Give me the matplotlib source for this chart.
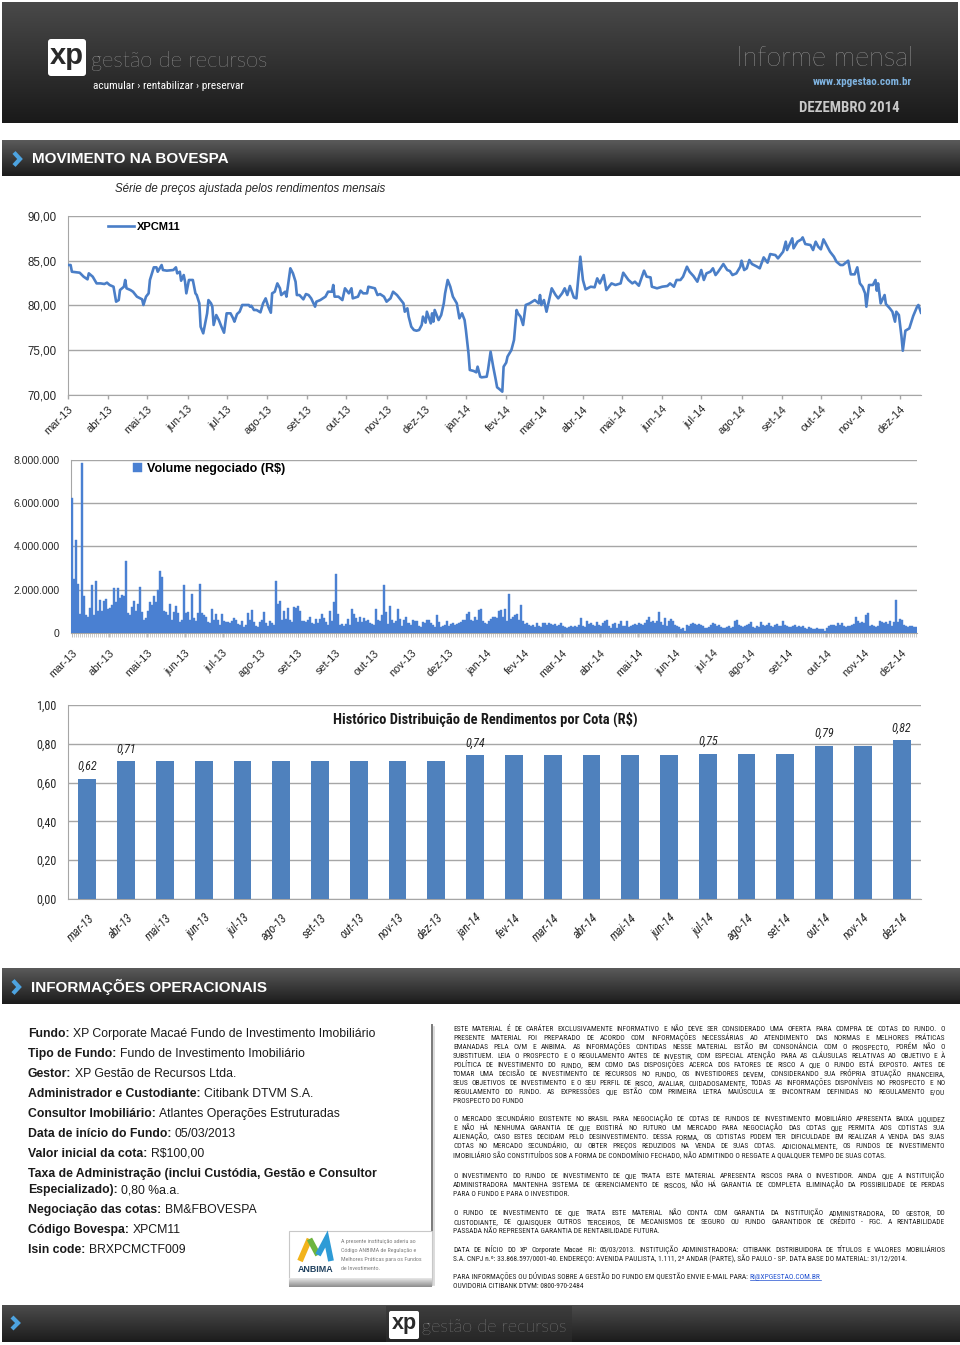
import numpy as np
import pandas as pd
import matplotlib
matplotlib.use('Agg')
import matplotlib.pyplot as plt
from matplotlib import font_manager as fm
from matplotlib.font_manager import FontProperties
from matplotlib.colors import to_rgb
from matplotlib.patches import Rectangle, FancyBboxPatch
from matplotlib.ticker import FixedLocator, FuncFormatter

# ----------------------------------------------------------------- DATA
start_date = '2013-03-01'
month_labels = ['mar-13', 'abr-13', 'mai-13', 'jun-13', 'jul-13', 'ago-13', 'set-13', 'out-13',
                'nov-13', 'dez-13', 'jan-14', 'fev-14', 'mar-14', 'abr-14', 'mai-14', 'jun-14',
                'jul-14', 'ago-14', 'set-14', 'out-14', 'nov-14', 'dez-14']

# price series XPCM11 (days since 2013-03-01, R$)
price_day = [0, 2, 3, 9, 12, 15, 16, 19, 22, 25,
             28, 30, 32, 35, 37, 39, 40, 43, 44, 45,
             48, 50, 53, 57, 58, 60, 62, 63, 66, 68,
             69, 72, 73, 76, 81, 83, 84, 86, 87, 89,
             90, 91, 93, 94, 96, 98, 99, 101, 102, 104,
             105, 107, 108, 110, 111, 112, 114, 116, 118, 120,
             122, 125, 127, 128, 130, 132, 134, 139, 140, 141,
             143, 145, 148, 150, 152, 154, 156, 157, 159, 161,
             163, 164, 167, 168, 171, 173, 175, 176, 178, 181,
             183, 185, 187, 190, 191, 194, 198, 200, 203, 204,
             205, 208, 211, 213, 216, 218, 219, 223, 225, 227,
             230, 231, 236, 238, 240, 243, 245, 248, 250, 253,
             255, 258, 259, 261, 262, 264, 266, 268, 270, 272,
             273, 275, 276, 279, 280, 281, 282, 285, 287, 289,
             290, 292, 294, 296, 299, 301, 303, 305, 306, 308,
             309, 312, 314, 315, 317, 318, 322, 323, 325, 327,
             329, 330, 332, 334, 335, 337, 338, 341, 343, 345,
             346, 348, 350, 352, 355, 359, 362, 363, 364, 366,
             368, 372, 375, 377, 380, 382, 384, 386, 389, 391,
             394, 396, 398, 402, 405, 407, 409, 412, 414, 418,
             421, 425, 427, 431, 434, 436, 439, 443, 445, 448,
             449, 453, 457, 461, 463, 466, 468, 471, 473, 476,
             478, 481, 484, 487, 489, 491, 494, 496, 498, 500,
             504, 507, 509, 511, 514, 517, 518, 520, 522, 524,
             526, 530, 532, 535, 538, 540, 544, 546, 550, 552,
             553, 557, 558, 561, 564, 565, 567, 571, 573, 575,
             577, 579, 581, 584, 586, 589, 591, 594, 596, 600,
             602, 605, 607, 609, 611, 613, 614, 616, 619, 621,
             622, 623, 625, 628, 629, 632, 634, 636, 637, 639,
             641, 642, 644, 647, 650, 653, 654, 656]
price_value = [84.50, 84.50, 83.75, 83.64, 83.20, 82.90, 83.57, 83.20, 82.45, 82.45,
               82.38, 82.53, 82.27, 82.08, 80.41, 80.59, 81.71, 82.08, 82.83, 81.90,
               81.71, 81.52, 80.97, 80.67, 80.04, 80.97, 81.34, 82.83, 84.24, 84.24,
               83.75, 84.50, 83.94, 83.87, 83.94, 84.24, 83.57, 83.75, 82.75, 83.38,
               82.64, 81.34, 82.83, 82.83, 82.83, 81.34, 81.15, 80.22, 77.62, 76.88,
               77.62, 79.11, 80.59, 80.22, 79.85, 77.81, 78.92, 78.36, 77.62, 76.95,
               79.11, 79.11, 78.55, 78.18, 79.03, 79.29, 80.04, 80.04, 79.85, 79.96,
               79.48, 79.48, 79.22, 80.22, 80.78, 79.85, 79.18, 81.34, 81.52, 82.45,
               81.90, 81.15, 81.52, 80.97, 84.13, 83.57, 82.64, 81.15, 81.15, 80.67,
               81.26, 81.15, 80.78, 79.85, 80.41, 80.59, 80.97, 81.52, 81.52, 82.27,
               80.97, 80.97, 80.59, 81.90, 81.34, 81.90, 80.78, 80.97, 81.64, 81.34,
               81.34, 82.08, 81.90, 81.15, 81.26, 80.97, 80.41, 80.78, 81.52, 81.15,
               80.78, 80.22, 79.29, 79.67, 78.74, 77.62, 77.25, 77.17, 77.25, 77.81,
               78.74, 78.07, 79.29, 77.99, 79.11, 78.18, 79.48, 78.36, 78.92, 80.22,
               81.34, 82.83, 82.08, 80.97, 80.22, 78.55, 79.11, 78.36, 77.25, 74.65,
               72.79, 72.68, 72.53, 73.16, 72.04, 71.97, 72.04, 72.79, 74.83, 73.16,
               71.67, 70.86, 70.63, 70.37, 73.16, 73.61, 74.28, 75.02, 76.13, 79.48,
               79.11, 78.74, 77.81, 80.04, 80.22, 80.59, 80.22, 81.15, 80.04, 80.59,
               79.29, 81.90, 81.15, 80.78, 81.34, 81.90, 81.15, 82.16, 80.89, 80.78,
               85.43, 82.83, 81.78, 82.08, 82.01, 83.01, 82.45, 83.38, 81.71, 82.45,
               82.27, 82.45, 83.64, 82.83, 82.45, 82.64, 82.19, 83.87, 83.20, 83.12,
               82.08, 81.90, 82.08, 82.16, 82.45, 82.08, 82.83, 82.83, 83.20, 84.31,
               83.75, 83.27, 82.64, 83.94, 82.83, 83.57, 83.75, 84.13, 83.38, 83.75,
               84.61, 83.94, 83.83, 83.38, 83.57, 84.31, 84.98, 83.94, 84.13, 85.06,
               84.61, 84.31, 84.13, 85.35, 84.76, 85.72, 85.61, 85.24, 85.99, 87.10,
               86.17, 87.47, 86.36, 87.10, 87.36, 87.58, 86.84, 86.73, 86.17, 87.10,
               86.54, 86.25, 87.36, 86.54, 85.99, 85.43, 84.87, 84.50, 84.50, 84.98,
               83.46, 83.46, 84.24, 82.45, 82.08, 81.34, 79.85, 82.27, 82.27, 82.83,
               81.64, 82.45, 80.22, 81.15, 80.15, 79.67, 79.29, 78.18, 79.29, 78.92,
               76.51, 74.94, 77.17, 77.43, 78.81, 79.85, 80.04, 79.18]

# daily traded volume (R$ millions), Mar-2013 .. Jan-2014
volume_part1 = [6.25, 2.5, 4.3, 2.25, 0.85, 7.85, 1.7, 0.8, 0.75, 1.15,
                2.2, 0.8, 2.4, 1.0, 1.5, 1.0, 1.45, 1.55, 1.1, 1.15,
                1.3, 2.05, 1.4, 2.05, 1.6, 1.75, 1.7, 3.3, 0.9, 0.8,
                1.2, 1.45, 1.0, 1.35, 2.1, 0.95, 0.6, 0.7, 1.0, 1.4,
                1.3, 1.7, 1.4, 2.0, 2.85, 2.6, 1.0, 0.95, 0.8, 1.35,
                0.6, 0.95, 1.25, 0.9, 0.5, 0.6, 2.2, 0.9, 0.95, 0.6,
                1.8, 0.7, 0.55, 0.9, 2.25, 0.9, 0.8, 0.75, 0.5, 0.45,
                1.1, 0.6, 0.85, 0.6, 0.35, 0.85, 0.55, 0.5, 0.5, 0.45,
                0.55, 0.7, 0.6, 0.4, 0.35, 0.55, 0.25, 0.35, 0.9, 0.6,
                1.05, 0.5, 0.3, 0.25, 0.5, 0.6, 0.95, 0.45, 0.3, 0.55,
                0.45, 0.35, 2.4, 1.35, 1.45, 0.6, 1.0, 0.65, 1.15, 0.6,
                0.5, 1.2, 1.15, 1.25, 1.0, 0.55, 0.55, 0.5, 0.6, 0.75,
                0.45, 0.4, 0.65, 0.45, 0.65, 0.85, 0.7, 0.5, 0.35, 1.0,
                0.55, 1.4, 2.7, 0.85, 0.35, 0.4, 0.3, 0.4, 0.65, 0.35,
                1.1, 0.85, 0.7, 0.5, 0.75, 0.5, 0.7, 0.55, 0.6, 0.45,
                0.4, 0.35, 1.1, 0.6, 0.55, 0.8, 2.2, 0.95, 0.4, 1.25,
                0.6, 0.45, 0.55, 1.1, 0.65, 0.3, 0.6, 0.75, 0.45, 0.35,
                0.6, 0.55, 0.55, 0.3, 0.25, 0.5, 0.45, 0.6, 0.6, 0.45,
                0.35, 0.25, 0.8, 0.5, 0.25, 0.3, 0.35, 0.55, 0.3, 0.4,
                0.45, 0.35, 0.4, 0.45, 0.5, 0.6, 0.6, 0.85, 0.95, 0.6,
                0.55, 0.75, 0.6, 1.05]
# daily traded volume (R$ millions), Jan-2014 .. Dec-2014
volume_part2 = [1.1, 0.55, 0.45, 0.4, 0.55, 0.65, 0.75, 0.75, 0.7, 1.0,
                1.05, 0.75, 1.1, 0.55, 1.8, 0.65, 0.75, 0.8, 0.85, 0.6,
                1.3, 0.55, 0.4, 0.45, 0.35, 0.3, 0.35, 0.25, 0.45, 0.3,
                0.25, 0.45, 0.45, 0.35, 0.45, 0.4, 0.35, 0.4, 0.3, 0.35,
                0.45, 0.3, 0.25, 0.2, 0.25, 0.3, 0.25, 0.3, 0.25, 0.35,
                0.7, 0.3, 0.25, 0.55, 0.4, 0.45, 0.35, 0.3, 0.5, 0.35,
                0.3, 0.45, 0.55, 0.6, 0.3, 0.2, 0.4, 0.45, 0.2, 0.4,
                0.55, 0.3, 0.3, 0.55, 0.25, 0.3, 0.35, 0.4, 0.35, 0.45,
                0.4, 0.35, 0.45, 0.6, 0.75, 0.5, 0.55, 0.45, 0.55, 0.95,
                0.5, 0.35, 0.7, 0.3, 0.55, 0.65, 0.55, 0.35, 0.3, 0.25,
                0.15, 0.2, 0.1, 0.35, 0.3, 0.4, 0.45, 0.4, 0.35, 0.4,
                0.35, 0.3, 0.2, 0.2, 0.25, 0.35, 0.45, 0.4, 0.3, 0.35,
                0.25, 0.2, 0.2, 0.25, 0.3, 0.2, 0.25, 0.55, 0.6, 0.35,
                0.3, 0.25, 0.3, 0.35, 0.4, 0.5, 0.25, 0.2, 0.3, 0.25,
                0.5, 0.35, 0.3, 0.35, 0.45, 0.3, 0.25, 0.35, 0.4, 0.3,
                0.3, 0.55, 0.35, 0.3, 0.25, 0.25, 0.3, 0.35, 0.25, 0.3,
                0.25, 0.3, 0.2, 0.15, 0.25, 0.2, 0.15, 0.15, 0.2, 0.15,
                0.15, 0.15, 0.1, 0.2, 0.3, 0.35, 0.35, 0.3, 0.45, 0.35,
                0.45, 0.3, 0.25, 0.3, 0.3, 0.35, 0.4, 0.75, 0.55, 0.45,
                0.5, 0.45, 0.8, 0.9, 0.3, 0.35, 0.3, 0.25, 0.3, 0.55,
                0.5, 0.45, 0.5, 0.4, 0.55, 0.3, 0.5, 1.5, 0.5, 0.65,
                0.6, 0.35, 0.3, 0.25, 0.3, 0.3, 0.25, 0.25]
volume_labels = ['mar-13', 'abr-13', 'mai-13', 'jun-13', 'jul-13', 'ago-13', 'set-13', 'set-13',
                 'out-13', 'nov-13', 'dez-13', 'jan-14', 'fev-14', 'mar-14', 'abr-14', 'mai-14',
                 'jun-14', 'jul-14', 'ago-14', 'set-14', 'out-14', 'nov-14', 'dez-14']

# distribution per share (R$)
dividends = [0.62, 0.71, 0.71, 0.71, 0.71, 0.71, 0.71, 0.71, 0.71, 0.71, 0.74,
             0.74, 0.74, 0.74, 0.74, 0.74, 0.75, 0.75, 0.75, 0.79, 0.79, 0.82]
dividend_labelled = ['mar-13', 'abr-13', 'jan-14', 'jul-14', 'out-14', 'dez-14']

info_labels = ['Fundo:', 'Tipo de Fundo:', 'Gestor:', 'Administrador e Custodiante:',
               'Consultor Imobiliário:', 'Data de início do Fundo:', 'Valor inicial da cota:',
               'Taxa de Administração (inclui Custódia, Gestão e Consultor', 'Especializado):',
               'Negociação das cotas:', 'Código Bovespa:', 'Isin code:']
info_values = ['XP Corporate Macaé Fundo de Investimento Imobiliário',
               'Fundo de Investimento Imobiliário', 'XP Gestão de Recursos Ltda.',
               'Citibank DTVM S.A.', 'Atlantes Operações Estruturadas', '05/03/2013',
               'R$100,00', '', '0,80 %a.a.', 'BM&FBOVESPA', 'XPCM11', 'BRXPCMCTF009']

disclaimer = [
    ["ESTE MATERIAL É DE CARÁTER EXCLUSIVAMENTE INFORMATIVO E NÃO DEVE SER CONSIDERADO UMA OFERTA PARA COMPRA DE COTAS DO FUNDO. O",
     "PRESENTE MATERIAL FOI PREPARADO DE ACORDO COM INFORMAÇÕES NECESSÁRIAS AO ATENDIMENTO DAS NORMAS E MELHORES PRÁTICAS",
     "EMANADAS PELA CVM E ANBIMA. AS INFORMAÇÕES CONTIDAS NESSE MATERIAL ESTÃO EM CONSONÂNCIA COM O PROSPECTO, PORÉM NÃO O",
     "SUBSTITUEM. LEIA O PROSPECTO E O REGULAMENTO ANTES DE INVESTIR, COM ESPECIAL ATENÇÃO PARA AS CLÁUSULAS RELATIVAS AO OBJETIVO E À",
     "POLÍTICA DE INVESTIMENTO DO FUNDO, BEM COMO DAS DISPOSIÇÕES ACERCA DOS FATORES DE RISCO A QUE O FUNDO ESTÁ EXPOSTO. ANTES DE",
     "TOMAR UMA DECISÃO DE INVESTIMENTO DE RECURSOS NO FUNDO, OS INVESTIDORES DEVEM, CONSIDERANDO SUA PRÓPRIA SITUAÇÃO FINANCEIRA,",
     "SEUS OBJETIVOS DE INVESTIMENTO E O SEU PERFIL DE RISCO, AVALIAR, CUIDADOSAMENTE, TODAS AS INFORMAÇÕES DISPONÍVEIS NO PROSPECTO E NO",
     "REGULAMENTO DO FUNDO. AS EXPRESSÕES QUE ESTÃO COM PRIMEIRA LETRA MAIÚSCULA SE ENCONTRAM DEFINIDAS NO REGULAMENTO E/OU",
     "PROSPECTO DO FUNDO"],
    ["O MERCADO SECUNDÁRIO EXISTENTE NO BRASIL PARA NEGOCIAÇÃO DE COTAS DE FUNDOS DE INVESTIMENTO IMOBILIÁRIO APRESENTA BAIXA LIQUIDEZ",
     "E NÃO HÁ NENHUMA GARANTIA DE QUE EXISTIRÁ NO FUTURO UM MERCADO PARA NEGOCIAÇÃO DAS COTAS QUE PERMITA AOS COTISTAS SUA",
     "ALIENAÇÃO, CASO ESTES DECIDAM PELO DESINVESTIMENTO. DESSA FORMA, OS COTISTAS PODEM TER DIFICULDADE EM REALIZAR A VENDA DAS SUAS",
     "COTAS NO MERCADO SECUNDÁRIO, OU OBTER PREÇOS REDUZIDOS NA VENDA DE SUAS COTAS. ADICIONALMENTE, OS FUNDOS DE INVESTIMENTO",
     "IMOBILIÁRIO SÃO CONSTITUÍDOS SOB A FORMA DE CONDOMÍNIO FECHADO, NÃO ADMITINDO O RESGATE A QUALQUER TEMPO DE SUAS COTAS."],
    ["O INVESTIMENTO DO FUNDO DE INVESTIMENTO DE QUE TRATA ESTE MATERIAL APRESENTA RISCOS PARA O INVESTIDOR. AINDA QUE A INSTITUIÇÃO",
     "ADMINISTRADORA MANTENHA SISTEMA DE GERENCIAMENTO DE RISCOS, NÃO HÁ GARANTIA DE COMPLETA ELIMINAÇÃO DA POSSIBILIDADE DE PERDAS",
     "PARA O FUNDO E PARA O INVESTIDOR."],
    ["O FUNDO DE INVESTIMENTO DE QUE TRATA ESTE MATERIAL NÃO CONTA COM GARANTIA DA INSTITUIÇÃO ADMINISTRADORA, DO GESTOR, DO",
     "CUSTODIANTE, DE QUAISQUER OUTROS TERCEIROS, DE MECANISMOS DE SEGURO OU FUNDO GARANTIDOR DE CRÉDITO - FGC. A RENTABILIDADE",
     "PASSADA NÃO REPRESENTA GARANTIA DE RENTABILIDADE FUTURA."],
    ["DATA DE INÍCIO DO XP Corporate Macaé FII: 05/03/2013. INSTITUIÇÃO ADMINISTRADORA: CITIBANK DISTRIBUIDORA DE TÍTULOS E VALORES MOBILIÁRIOS",
     "S.A. CNPJ n.º: 33.868.597/0001-40. ENDEREÇO: AVENIDA PAULISTA, 1.111, 2º ANDAR (PARTE), SÃO PAULO - SP. DATA BASE DO MATERIAL: 31/12/2014."],
]
contact_text = "PARA INFORMAÇÕES OU DÚVIDAS SOBRE A GESTÃO DO FUNDO EM QUESTÃO ENVIE E-MAIL PARA: "
contact_email = "RI@XPGESTAO.COM.BR"
ouvidoria_text = "OUVIDORIA CITIBANK DTVM: 0800-970-2484"

# ----------------------------------------------------------------- FONTS
flist = fm.fontManager.ttflist
avail = {f.name for f in flist}
SANS = 'Liberation Sans' if 'Liberation Sans' in avail else 'DejaVu Sans'
NARROW, NSTRETCH, NK = SANS, 'normal', 0.84
for cand in ['Liberation Sans Narrow', 'Arial Narrow', 'Roboto Condensed',
             'Open Sans Condensed', 'DejaVu Sans Condensed']:
    if cand in avail:
        NARROW, NSTRETCH, NK = cand, 'normal', 1.0 if 'Narrow' in cand else 0.95
        break
else:
    cond = [f for f in flist if f.name in ('Roboto', 'Open Sans', 'DejaVu Sans')
            and str(f.stretch) in ('condensed', 'semi-condensed', '500', '600', '300', '400')
            and str(f.stretch) not in ('normal',)]
    if cond:
        NARROW, NSTRETCH, NK = cond[0].name, cond[0].stretch, 0.92
LIGHT = 'Lato' if 'Lato' in avail else SANS
plt.rcParams['font.family'] = [SANS, 'DejaVu Sans']


def nfp(size, weight='normal', style='normal'):
    return FontProperties(family=NARROW, stretch=NSTRETCH, size=size * NK,
                          weight=weight, style=style)


BLUE = '#4A7EC7'
GRID = '#a6a6a6'
TXT = '#262626'

W, H = 960, 1345
fig = plt.figure(figsize=(W / 100, H / 100), dpi=100)
fig.patch.set_facecolor('white')
bg = fig.add_axes([0, 0, 1, 1])
bg.axis('off')
renderer = fig.canvas.get_renderer()


def frac_axes(x0, y0, x1, y1):
    a = fig.add_axes([x0 / W, 1 - y1 / H, (x1 - x0) / W, (y1 - y0) / H])
    a.set_facecolor('none')
    return a


def grad(x0, y0, x1, y1, c_top, c_bot, z=1):
    t = np.linspace(0, 1, 64)[:, None]
    a, b = np.array(to_rgb(c_top)), np.array(to_rgb(c_bot))
    img = (a * (1 - t) + b * t)[:, None, :]
    bg.imshow(img, extent=(x0, x1, y1, y0), origin='upper', aspect='auto',
              interpolation='bilinear', zorder=z)


def chevron(x, y, s=6.5):
    bg.plot([x - 3, x + 3, x - 3], [y - s, y, y + s], color='#4da3e0', lw=3,
            solid_joinstyle='miter', solid_capstyle='butt', zorder=3)


def text_w(s, fp):
    w, h, d = renderer.get_text_width_height_descent(s, fp, ismath=False)
    return w


def ctext(x, y, s, fp, **kw):
    """text whose cap-height centre sits at y (baseline aligned)."""
    off = fp.get_size_in_points() * 100 / 72 * 0.36
    return bg.text(x, y + off, s, va='baseline', fontproperties=fp, **kw)


# ----------------------------------------------------------------- HEADER
grad(2, 2, 958, 123, '#494949', '#1a1a1a')
bg.add_patch(FancyBboxPatch((48, 39), 38, 37, boxstyle='round,pad=0,rounding_size=3',
                            fc='white', ec='none', zorder=3))
bg.text(67, 56, 'xp', ha='center', va='center', fontsize=21, fontweight='bold',
        color='#2a2a2a', family=SANS, zorder=4)
bg.text(91, 61, 'gestão de recursos', ha='left', va='center', fontsize=15.8,
        family=LIGHT, fontweight='light', color='#d8d8d8', zorder=4)
ctext(93, 85, 'acumular › rentabilizar › preservar', nfp(8.6), ha='left', color='white', zorder=4)
bg.text(914, 59, 'Informe mensal', ha='right', va='center', fontsize=19.5,
        family=LIGHT, fontweight='light', color='#cfcfcf', zorder=4)
ctext(912, 81, 'www.xpgestao.com.br', nfp(8.4, 'bold'), ha='right', color='#7fb3e0', zorder=4)
ctext(900, 107, 'DEZEMBRO 2014', nfp(11.2, 'bold'), ha='right', color='#c9c9c9', zorder=4)

# ----------------------------------------------------------------- SECTION 1
grad(2, 140, 960, 176, '#5a5a5a', '#1b1b1b')
chevron(17, 159)
bg.text(32, 159, 'MOVIMENTO NA BOVESPA', ha='left', va='center', fontsize=11,
        fontweight='bold', color='white', zorder=4)
bg.text(250, 189, 'Série de preços ajustada pelos rendimentos mensais', ha='center',
        va='center', fontsize=8.3, style='italic', color=TXT, zorder=4)

# line chart
ax1 = frac_axes(68, 215.7, 921, 395)
ax1.plot(price_day, price_value, color=BLUE, lw=1.9, label='XPCM11', zorder=3)
ax1.set_xlim(0, 656)
ax1.set_ylim(70, 90)
ax1.set_yticks([70, 75, 80, 85, 90])
ax1.yaxis.set_major_formatter(FuncFormatter(lambda v, p: f'{v:.2f}'.replace('.', ',')))
month_days = (pd.date_range(start_date, periods=len(month_labels), freq='MS')
              - pd.Timestamp(start_date)).days
ax1.set_xticks(month_days)
ax1.set_xticklabels(month_labels)
ax1.yaxis.grid(True, color=GRID, lw=1)
ax1.set_axisbelow(True)
for s in ['top', 'right']:
    ax1.spines[s].set_visible(False)
for s in ['left', 'bottom']:
    ax1.spines[s].set_color(GRID)
ax1.tick_params(axis='y', length=0, pad=8, labelsize=8.3, labelcolor=TXT)
ax1.tick_params(axis='x', length=3, width=1, color=GRID, pad=3.5, labelsize=8, labelcolor=TXT)
plt.setp(ax1.get_xticklabels(), rotation=45, ha='right', rotation_mode='anchor')
ax1.legend(loc='center left', bbox_to_anchor=((108 - 68) / 853, 1 - (227 - 215.7) / 179.3),
           frameon=False, handlelength=2.3, handletextpad=0.3, borderpad=0, borderaxespad=0,
           prop=dict(weight='bold', size=8))

# volume chart
volume = np.array(volume_part1 + volume_part2) * 1e6
N = len(volume)
VCOL = '#4A80D2'
ax2 = frac_axes(70.7, 460, 916.7, 632.7)
ax2.bar(np.arange(N), volume, width=1.0, color=VCOL, edgecolor=VCOL, linewidth=0.3,
        label='Volume negociado (R$)', zorder=3)
ax2.set_xlim(-0.5, N - 0.5)
ax2.set_ylim(0, 8e6)
ax2.set_yticks([0, 2e6, 4e6, 6e6, 8e6])
ax2.yaxis.set_major_formatter(FuncFormatter(lambda v, p: f'{int(round(v)):,}'.replace(',', '.')))
step = N * 0.9814 / (len(volume_labels) - 1)
ax2.xaxis.set_major_locator(FixedLocator([i * step for i in range(len(volume_labels))]))
ax2.set_xticklabels(volume_labels)
ax2.xaxis.set_minor_locator(FixedLocator(np.arange(N)))
ax2.yaxis.grid(True, color=GRID, lw=1)
ax2.set_axisbelow(True)
for s in ['top', 'right']:
    ax2.spines[s].set_visible(False)
for s in ['left', 'bottom']:
    ax2.spines[s].set_color(GRID)
ax2.tick_params(axis='y', length=0, pad=8, labelsize=7.6, labelcolor=TXT)
ax2.tick_params(axis='x', which='major', length=3, width=0.6, color='#b0b0b0', pad=8,
                labelsize=7.8, labelcolor=TXT)
ax2.tick_params(axis='x', which='minor', length=3, width=0.5, color='#b8b8b8')
plt.setp(ax2.get_xticklabels(), rotation=45, ha='right', rotation_mode='anchor')
ax2.legend(loc='center left', bbox_to_anchor=((133 - 70.7) / 846, 1 - (469 - 460) / 172.7),
           frameon=False, handlelength=0.75, handleheight=0.75, handletextpad=0.35,
           borderpad=0, borderaxespad=0, prop=dict(weight='bold', size=9))

# dividends bar chart
ax3 = frac_axes(68, 705, 921, 899)
xb = np.arange(len(dividends))
ax3.bar(xb, dividends, width=0.46, color='#4F81BD', zorder=3)
ax3.set_xlim(-0.5, len(dividends) - 0.5)
ax3.set_ylim(0, 1.0)
ax3.set_yticks(np.arange(0, 1.01, 0.2))
ax3.yaxis.set_major_formatter(FuncFormatter(lambda v, p: f'{v:.2f}'.replace('.', ',')))
ax3.set_xticks(xb)
ax3.set_xticklabels(month_labels)
ax3.yaxis.grid(True, color=GRID, lw=1)
ax3.set_axisbelow(True)
for s in ['top', 'right']:
    ax3.spines[s].set_visible(False)
for s in ['left', 'bottom']:
    ax3.spines[s].set_color(GRID)
ax3.tick_params(axis='y', length=0, pad=8, labelcolor=TXT)
ax3.tick_params(axis='x', length=0, pad=9, labelcolor=TXT)
for lab in ax3.get_yticklabels():
    lab.set_fontproperties(nfp(9.2))
for lab in ax3.get_xticklabels():
    lab.set_fontproperties(nfp(9.2, style='italic'))
plt.setp(ax3.get_xticklabels(), rotation=45, ha='right', rotation_mode='anchor')
for m in dividend_labelled:
    i = month_labels.index(m)
    ax3.annotate(f'{dividends[i]:.2f}'.replace('.', ','), (i, dividends[i]),
                 xytext=(0, 4), textcoords='offset points', ha='center', va='bottom',
                 fontproperties=nfp(9.2, style='italic'), color=TXT)
ax3.text((485 - 68) / 853, 1 - (719 - 705) / 194,
         'Histórico Distribuição de Rendimentos por Cota (R$)', transform=ax3.transAxes,
         ha='center', va='center', fontproperties=nfp(11, 'bold'), color='#1a1a1a')

# ----------------------------------------------------------------- SECTION 2
grad(2, 968, 960, 1004, '#5a5a5a', '#1b1b1b')
chevron(16, 987)
bg.text(31, 987, 'INFORMAÇÕES OPERACIONAIS', ha='left', va='center', fontsize=11,
        fontweight='bold', color='white', zorder=4)

info_y = [1032.7, 1052.7, 1072.7, 1092.7, 1112.7, 1132.7, 1152.3, 1172.3, 1189,
          1208.3, 1228.3, 1248.3]
fs_info = 8.6
fpb = FontProperties(family=SANS, weight='bold', size=fs_info)
fpr = FontProperties(family=SANS, size=fs_info)
w0 = text_w(info_labels[0], fpb) + text_w(' ' + info_values[0], fpr) + 3
fs_info = fs_info * 350 / w0
fpb = FontProperties(family=SANS, weight='bold', size=fs_info)
fpr = FontProperties(family=SANS, size=fs_info)
space_w = text_w('a a', fpr) - text_w('aa', fpr)
for lab, val, y in zip(info_labels, info_values, info_y):
    ctext(28, y, lab, fpb, ha='left', color='#1a1a1a', zorder=4)
    if val:
        xv = 28 + text_w(lab, fpb) + space_w
        ctext(xv, y, val, fpr, ha='left', color='#1a1a1a', zorder=4)

# divider and ANBIMA box
bg.plot([432, 432], [1025, 1283], color='#7a7a7a', lw=1.4, zorder=3)
bg.plot([434, 434], [1027, 1285], color='#d5d5d5', lw=1.2, zorder=2)
bg.add_patch(Rectangle((289, 1231), 143, 54, fc='white', ec='#c8c8c8', lw=0.8, zorder=3))
grad(289, 1278, 432, 1287, '#e8e8e8', '#8c8c8c', z=4)
bg.plot([300, 309.5], [1261, 1239], color='#F2B31B', lw=4.2, solid_capstyle='butt', zorder=5)
bg.plot([309.5, 318], [1239, 1255], color='#6DB43F', lw=4.2, solid_capstyle='butt', zorder=5)
bg.plot([318, 326.5, 331], [1255, 1239, 1261], color='#2E9BD6', lw=4.2,
        solid_capstyle='butt', solid_joinstyle='miter', zorder=5)
bg.text(316, 1269, 'ANBIMA', ha='center', va='center', fontsize=6.4, fontweight='bold',
        color='#20415f', zorder=5)
for k, s in enumerate(['A presente instituição aderiu ao', 'Código ANBIMA de Regulação e',
                       'Melhores Práticas para os Fundos', 'de Investimento.']):
    ctext(341, 1240.5 + k * 9.2, s, nfp(4.6), ha='left', color='#808080', zorder=5)

# disclaimer (justified)
X0, X1 = 453, 945
TW = X1 - X0
fpd = nfp(5.6)
nat = max(text_w(l, fpd) for para in disclaimer for l in para[:-1])
fs_d = fpd.get_size_in_points() * min(1.0, TW * 0.975 / nat)
fpd = FontProperties(family=NARROW, stretch=NSTRETCH, size=fs_d)
DCOL = '#222222'
para_y0 = [1028.7, 1118.3, 1175.7, 1212.3, 1249.0]
LS = 9.0
for para, y0 in zip(disclaimer, para_y0):
    for j, line in enumerate(para):
        y = y0 + j * LS
        if j < len(para) - 1:
            words = line.split(' ')
            ws = [text_w(wd, fpd) for wd in words]
            gap = (TW - sum(ws)) / (len(words) - 1)
            x = X0
            for wd, wv in zip(words, ws):
                ctext(x, y, wd, fpd, ha='left', color=DCOL, zorder=4)
                x += wv + gap
        else:
            ctext(X0, y, line, fpd, ha='left', color=DCOL, zorder=4)
yc = 1276.7
ctext(X0, yc, contact_text, fpd, ha='left', color=DCOL, zorder=4)
xe = X0 + text_w(contact_text.rstrip(), fpd) + (text_w('A A', fpd) - text_w('AA', fpd))
ctext(xe, yc, contact_email, fpd, ha='left', color='#1f4fd0', zorder=4)
bg.plot([xe, xe + text_w(contact_email, fpd)], [yc + 3.2, yc + 3.2], color='#1f4fd0', lw=0.5,
        zorder=4)
ctext(X0, yc + 8.5, ouvidoria_text, fpd, ha='left', color=DCOL, zorder=4)

# ----------------------------------------------------------------- FOOTER
grad(2, 1305, 960, 1342, '#4c4c4c', '#1c1c1c')
grad(386, 1306, 572, 1342, '#3d3d3d', '#262626', z=2)
chevron(15, 1323, s=6)
bg.add_patch(FancyBboxPatch((389, 1311), 30, 28, boxstyle='round,pad=0,rounding_size=2',
                            fc='white', ec='none', zorder=3))
bg.text(404, 1324, 'xp', ha='center', va='center', fontsize=15.5, fontweight='bold',
        color='#2a2a2a', family=SANS, zorder=4)
bg.text(422, 1327, 'gestão de recursos', ha='left', va='center', fontsize=13.0,
        family=LIGHT, fontweight='light', color='#b8b8b8', zorder=4)

bg.set_xlim(0, W)
bg.set_ylim(H, 0)
fig.savefig('out.png', dpi=100, facecolor='white')
